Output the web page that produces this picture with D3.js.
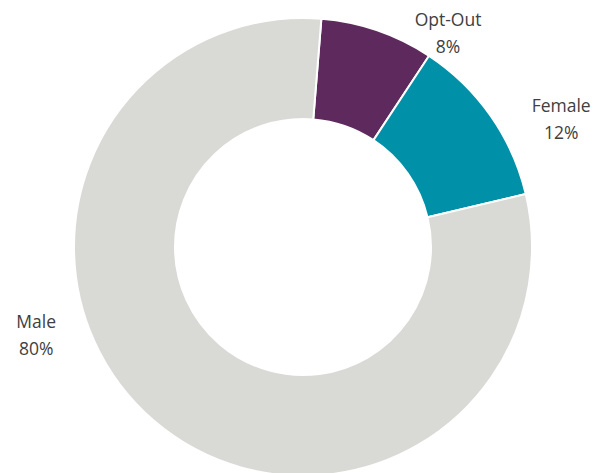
<!DOCTYPE html>
<html>
<head>
<meta charset="utf-8">
<script src="https://cdn.jsdelivr.net/npm/d3@7"></script>
<style>
  html, body { margin: 0; padding: 0; background: #fff; }
  svg { display: block; }
</style>
</head>
<body>
<svg id="chart" width="594" height="473"></svg>
<script>
// Gender split of respondents (percent)
const categories = ["Opt-Out", "Female", "Male"];
const values = [8, 12, 80];
const colors = ["#5e2a5e", "#0090a8", "#d9d9d6"];

const width = 594, height = 473;
const cx = 303, cy = 247;
const outerR = 229, innerR = 128;
const startDeg = 4.6;

const svg = d3.select("#chart");
const g = svg.append("g").attr("transform", `translate(${cx},${cy})`);

const pie = d3.pie()
  .sort(null)
  .value(d => d.value)
  .startAngle(startDeg * Math.PI / 180)
  .endAngle((startDeg + 360) * Math.PI / 180);

const data = categories.map((c, i) => ({ name: c, value: values[i], color: colors[i] }));
const arcs = pie(data);

const arc = d3.arc().innerRadius(innerR).outerRadius(outerR);

g.selectAll("path")
  .data(arcs)
  .join("path")
  .attr("d", arc)
  .attr("fill", d => d.data.color)
  .attr("stroke", "#fff")
  .attr("stroke-width", 2)
  .attr("stroke-linejoin", "miter");

// Label anchor points, given as (angle in degrees clockwise from 12 o'clock, radius)
const labelPlacement = {
  "Opt-Out": { deg: 34.2, r: 258 },
  "Female": { deg: 63.7, r: 288 },
  "Male":   { deg: 251.7, r: 281 }
};

const labels = g.selectAll("g.label")
  .data(arcs)
  .join("g")
  .attr("class", "label")
  .attr("transform", d => {
    const p = labelPlacement[d.data.name];
    const a = p.deg * Math.PI / 180;
    return `translate(${Math.sin(a) * p.r},${-Math.cos(a) * p.r})`;
  });

labels.append("text")
  .attr("text-anchor", "middle")
  .attr("font-family", "'Open Sans', sans-serif")
  .attr("font-size", 17.5)
  .attr("fill", "#404040")
  .selectAll("tspan")
  .data(d => [d.data.name, d3.format(".0f")(d.data.value) + "%"])
  .join("tspan")
  .attr("x", 0)
  .attr("y", (d, i) => i === 0 ? -7.5 : 19.5)
  .text(d => d);
</script>
</body>
</html>
